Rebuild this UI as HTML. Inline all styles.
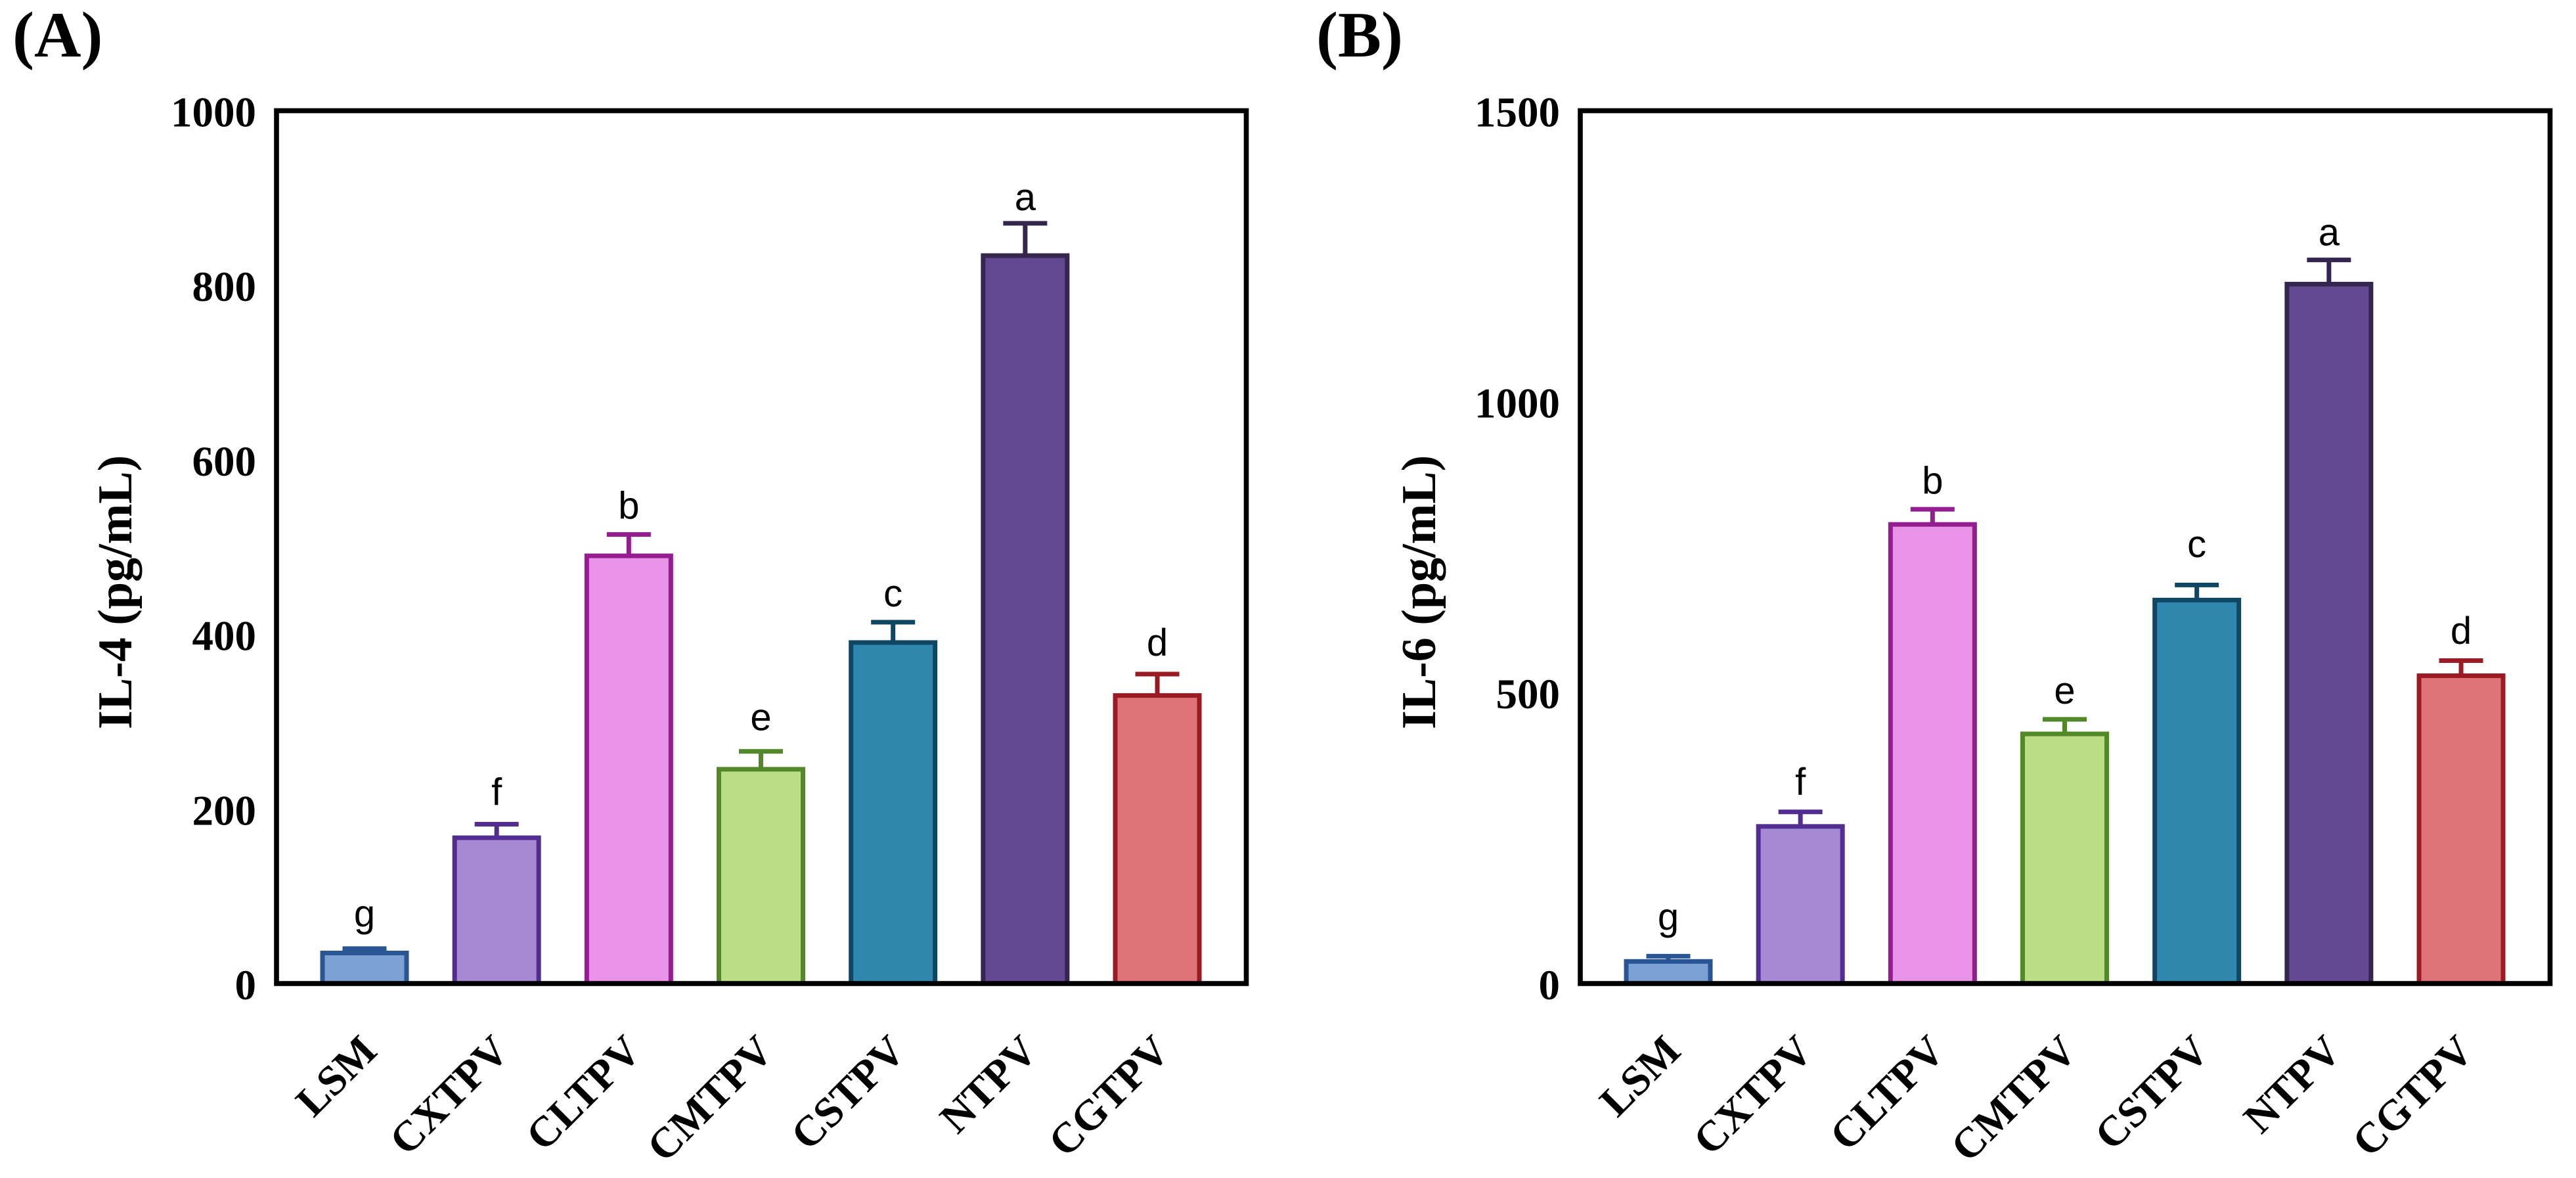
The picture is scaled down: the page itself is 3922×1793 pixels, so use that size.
<!DOCTYPE html>
<html lang="en">
<head>
<meta charset="utf-8">
<title>IL-4 and IL-6 bar charts</title>
<style>
  html, body { margin: 0; padding: 0; background: #fff; }
  svg { display: block; }
  .serif { font-family: "Liberation Serif", serif; font-weight: bold; fill: #000; }
  .sans { font-family: "Liberation Sans", sans-serif; fill: #000; }
  .tick { font-size: 65px; }
  .xlab { font-size: 65px; }
  .title { font-size: 74px; }
  .panel { font-size: 99px; }
  .sig { font-size: 58px; }
  .frame { fill: none; stroke: #000; stroke-width: 7.6; }
  .s0 { fill: #7DA0D4; stroke: #2A5595; }
  .s1 { fill: #A58AD3; stroke: #512D8F; }
  .s2 { fill: #E994E9; stroke: #941D8F; }
  .s3 { fill: #BBDE85; stroke: #52882A; }
  .s4 { fill: #2E88AE; stroke: #0F4763; }
  .s5 { fill: #634892; stroke: #352650; }
  .s6 { fill: #DE747A; stroke: #9B1B24; }
  .bar { stroke-width: 7; }
  .err { fill: none; stroke-width: 7; }
</style>
</head>
<body>
<svg id="figure" xmlns="http://www.w3.org/2000/svg" width="3922" height="1793" viewBox="0 0 3922 1793">
  <rect x="0" y="0" width="3922" height="1793" fill="#fff"/>
  <text class="serif panel" x="19" y="86">(A)</text>
  <text class="serif panel" x="2004" y="86">(B)</text>
  <g id="panel-a"></g>
  <g id="panel-b"></g>
</svg>
<script>
const categories = ['LSM', 'CXTPV', 'CLTPV', 'CMTPV', 'CSTPV', 'NTPV', 'CGTPV'];
const sigLetters = ['g', 'f', 'b', 'e', 'c', 'a', 'd'];

const il4Values = [35, 167, 490, 245.5, 390.7, 834, 330];
const il4Errors = [5, 15.5, 24.5, 20.5, 23.3, 37, 24.5];
const il4LetterLift = [25, 22, 18, 24, 18, 15, 21];
const il4Ticks = [0, 200, 400, 600, 800, 1000];

const il6Values = [38, 270, 789, 429, 659, 1202, 529];
const il6Errors = [9, 25, 26, 25, 26, 41.6, 26];
const il6LetterLift = [45, 29, 27, 27, 48, 25, 29];
const il6Ticks = [0, 500, 1000, 1500];

const SVG_NS = 'http://www.w3.org/2000/svg';

function make(tag, attrs, parent) {
  const el = document.createElementNS(SVG_NS, tag);
  for (const k in attrs) el.setAttribute(k, attrs[k]);
  parent.appendChild(el);
  return el;
}

function drawPanel(root, left, titleBaselineX, title, values, errors, lifts, ticks) {
  const top = 168.5, bottom = 1497, width = 1476.5;
  const axisMax = ticks[ticks.length - 1];
  const yScale = v => bottom - (v / axisMax) * (bottom - top);
  const xScale = i => left + 134 + i * 201.17;

  categories.forEach((name, i) => {
    const cx = xScale(i);
    const yTop = yScale(values[i]);
    const yErr = yScale(values[i] + errors[i]);
    const series = 's' + i;

    const stem = make('line', { x1: cx, x2: cx, y1: yErr, y2: yTop, class: 'err ' + series }, root);
    
    

    const cap = make('line', { x1: cx - 33.5, x2: cx + 33.5, y1: yErr, y2: yErr, class: 'err ' + series }, root);
    
    

    const bar = make('rect', { x: cx - 64, y: yTop, width: 128, height: bottom - yTop, class: 'bar ' + series }, root);
    
    

    const sig = make('text', { x: cx, y: yScale(values[i] + errors[i] + lifts[i]), 'text-anchor': 'middle', class: 'sans sig' }, root);
    
    
    sig.textContent = sigLetters[i];

    const lx = cx + 22, ly = 1603;
    const lab = make('text', { x: lx, y: ly, 'text-anchor': 'end', transform: 'rotate(-45 ' + lx + ' ' + ly + ')', class: 'serif xlab' }, root);
    
    
    lab.textContent = name;
  });

  const frame = make('rect', { x: left, y: top, width: width, height: bottom - top, class: 'frame' }, root);
  
  

  ticks.forEach(t => {
    const lab = make('text', { x: left - 31, y: yScale(t) + 24, 'text-anchor': 'end', class: 'serif tick' }, root);
    
    
    lab.textContent = String(t);
  });

  const ty = 1110;
  const axisTitle = make('text', { x: titleBaselineX, y: ty, transform: 'rotate(-90 ' + titleBaselineX + ' ' + ty + ')', class: 'serif title' }, root);
  
  
  axisTitle.textContent = title;
}

drawPanel(document.getElementById('panel-a'), 421, 200, 'IL-4 (pg/mL)', il4Values, il4Errors, il4LetterLift, il4Ticks);
drawPanel(document.getElementById('panel-b'), 2406, 2185, 'IL-6 (pg/mL)', il6Values, il6Errors, il6LetterLift, il6Ticks);
</script>
</body>
</html>
